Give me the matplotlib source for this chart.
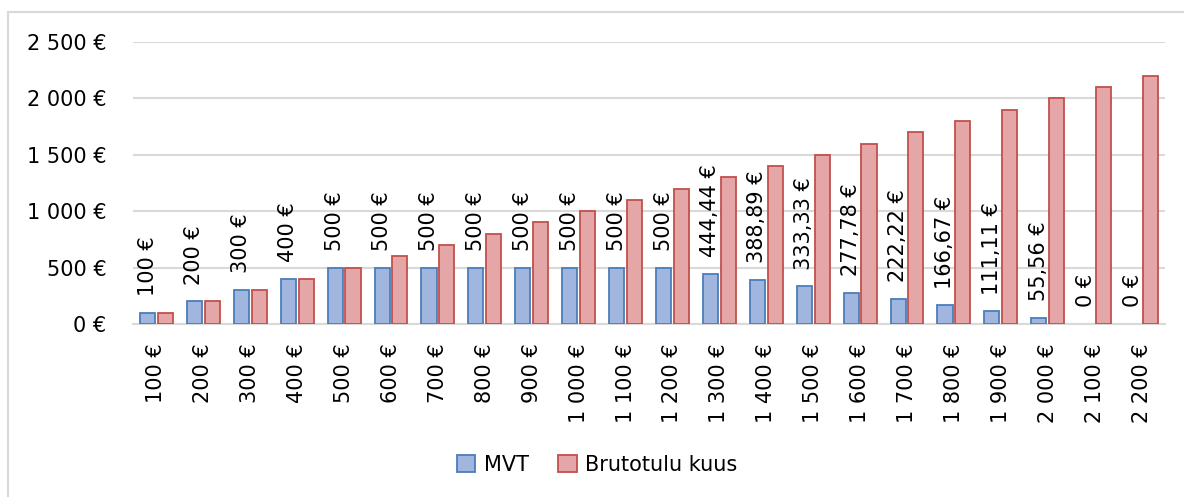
import matplotlib
matplotlib.use("Agg")
import matplotlib.pyplot as plt
from matplotlib.patches import Rectangle, Patch
import numpy as np

plt.rcParams['font.family'] = ['DejaVu Sans']

income = [100, 200, 300, 400, 500, 600, 700, 800, 900, 1000, 1100, 1200,
          1300, 1400, 1500, 1600, 1700, 1800, 1900, 2000, 2100, 2200]
mvt = [100, 200, 300, 400, 500, 500, 500, 500, 500, 500, 500, 500,
       444.44, 388.89, 333.33, 277.78, 222.22, 166.67, 111.11, 55.56, 0, 0]
brutotulu = [100, 200, 300, 400, 500, 600, 700, 800, 900, 1000, 1100, 1195,
             1300, 1400, 1500, 1600, 1700, 1800, 1900, 2000, 2100, 2200]
series_names = ["MVT", "Brutotulu kuus"]
yticks = [0, 500, 1000, 1500, 2000, 2500]


def eur(v):
    if abs(v - round(v)) < 1e-9:
        s = f"{int(round(v)):,}".replace(",", " ")
    else:
        s = f"{v:,.2f}".replace(",", " ").replace(".", ",")
    return s + " €"


W, H = 1184, 497
fig = plt.figure(figsize=(W / 100, H / 100), dpi=100)
ax = fig.add_axes([133 / W, 1 - 324 / H, (1165 - 133) / W, (324 - 42) / H])

x = np.arange(len(income))
off = 0.19
bw = 0.32
blue_fill, blue_edge = "#a0b6de", "#4a7ebb"
red_fill, red_edge = "#e4a6a6", "#c0504d"

ax.bar(x - off, mvt, bw, color=blue_fill, edgecolor=blue_edge,
       linewidth=[1.3 if v > 0 else 0 for v in mvt], zorder=3)
ax.bar(x + off, brutotulu, bw, color=red_fill, edgecolor=red_edge,
       linewidth=[1.3 if v > 0 else 0 for v in brutotulu], zorder=3)

fs = 15
for xi, v in zip(x, mvt):
    ax.annotate(eur(v), xy=(xi - off, v), xytext=(0, 12), textcoords="offset points",
                rotation=90, ha="center", va="bottom", fontsize=fs, color="#000000", zorder=4)

ax.set_xlim(-0.5, len(income) - 0.5)
ax.set_ylim(0, 2500)
ax.set_yticks(yticks)
ax.set_yticklabels([eur(v) for v in yticks], fontsize=fs, color="#000000")
ax.set_xticks(x)
ax.set_xticklabels([eur(v) for v in income], rotation=90, fontsize=fs, color="#000000", va="top")
ax.tick_params(axis="y", length=0, pad=19)
ax.tick_params(axis="x", length=0, pad=14)

ax.grid(axis="y", color="#d9d9d9", linewidth=1.5, zorder=0)
ax.set_axisbelow(True)
for s in ["top", "right", "left"]:
    ax.spines[s].set_visible(False)
ax.spines["bottom"].set_color("#d9d9d9")
ax.spines["bottom"].set_linewidth(1.5)

handles = [Patch(facecolor=blue_fill, edgecolor=blue_edge, linewidth=1.3),
           Patch(facecolor=red_fill, edgecolor=red_edge, linewidth=1.3)]
fig.legend(handles, series_names, loc="center", bbox_to_anchor=(597 / W, 1 - 465 / H),
           ncol=2, frameon=False, fontsize=fs, handlelength=0.9, handleheight=0.9,
           handletextpad=0.4, columnspacing=1.4)

frame = Rectangle((8 / W, -0.2), 1.5, 1 - 12 / H + 0.2, transform=fig.transFigure,
                  fill=False, edgecolor="#d9d9d9", linewidth=1.5, clip_on=False)
fig.patches.append(frame)

fig.savefig("out.png", dpi=100, facecolor="white")
